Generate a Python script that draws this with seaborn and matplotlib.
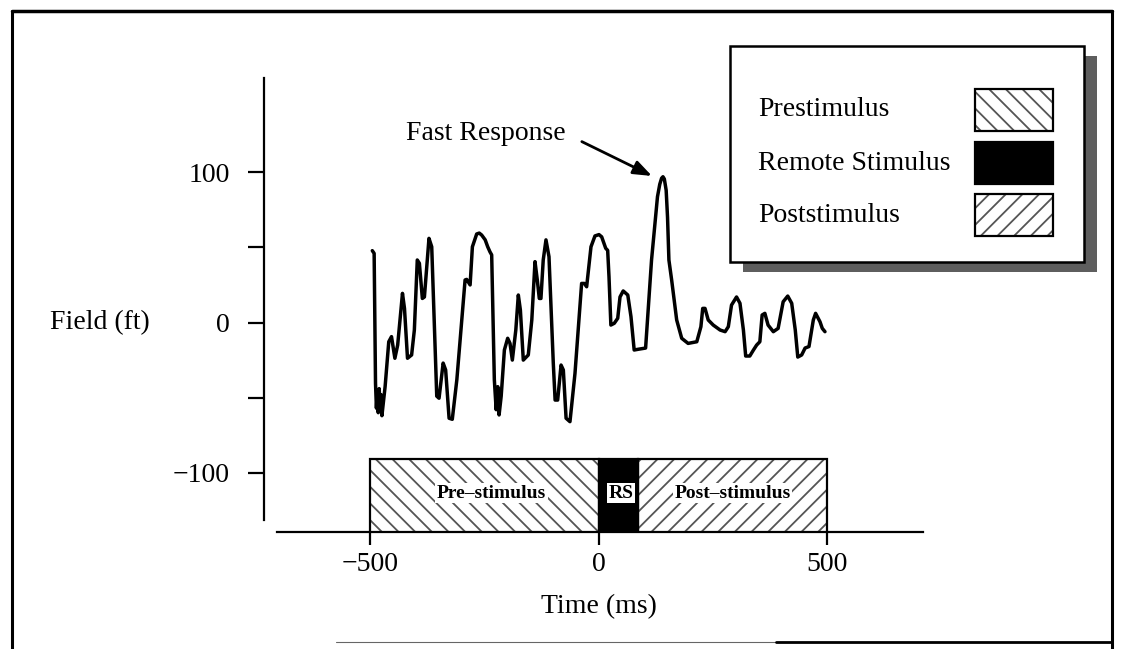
import pandas as pd
import seaborn as sns
import matplotlib.pyplot as plt
from matplotlib.patches import Rectangle
from matplotlib.lines import Line2D

# Field trace (ms, fT)
time_ms = [-496, -492, -489, -487, -485, -483, -481, -479, -477, -475, -468, -460, -454,
           -446.6, -440.5, -430, -425.6, -419, -410, -404, -397.6, -393, -386.5, -382, -372,
           -366, -355, -350, -341, -335.5, -328, -321, -311, -293, -289.5, -282, -277,
           -267.6, -262, -256.7, -249, -243.5, -238.5, -234.8, -229, -225, -221.5, -218.6, -214,
           -207, -199.8, -194.7, -189.6, -182, -176.5, -172, -165.6, -154.7, -147, -140,
           -135, -130.6, -127, -122, -116, -109.4, -100, -96, -90.4, -83, -78, -72, -63.5,
           -52.5, -38, -32, -27, -17.5, -8.8, 0, 5.9, 14.7, 19, 21.9, 26, 33.5, 41, 46, 53, 63,
           70, 77, 86, 102, 115, 128, 133, 137, 140, 143, 147, 150, 153, 159, 170, 181, 195, 214,
           223, 227, 232, 239, 250, 265, 276, 283, 290, 301, 308.5, 316, 321, 330, 338, 345, 352,
           357, 363, 370, 381.5, 392, 403, 413, 421.7, 429.5, 435, 443.5, 451, 459.5, 469,
           474, 483.6, 488.6, 494.5]
field_ft = [47.8, 46, -40.5, -57, -45, -60, -44, -56, -48, -62, -42.7, -12.8, -9.4,
            -23.8, -15, 19.4, 9.4, -23.8, -21.6, -5, 41.6, 39.4, 16, 17, 56,
            50.4, -49, -50.4, -27, -31.6, -63.7, -64.4, -38, 28.3, 28.7, 25, 50.4,
            58.9, 59.5, 58.2, 55, 50.4, 47, 45, -38, -58, -42.7, -61.5, -49,
            -18.3, -10.5, -13.9, -25, -5, 18.3, 8.3, -25, -21.6, 1.7, 40.5,
            28.3, 16, 16, 41.6, 55, 43.8, -27, -51.6, -51.6, -28.3, -31.6, -63.7, -66,
            -33.8, 26, 26, 23.8, 50.4, 57.6, 58.5, 57, 49.4, 48, 30.5, -1.7, -0.5, 2.8, 17, 21,
            18.3, 3.9, -18.3, -17.8, -17, 41.6, 83.7, 92, 96, 97, 95.5, 88, 70, 41.6, 28.3, 1.7,
            -10.5, -13.9, -12.8, -2.8, 9.4, 9.4, 1.7, -1.7, -5, -6.1, -2.8, 11.6, 17, 12.8, -5,
            -22.3, -22.3, -18.3, -15, -12.8, 5, 6.1, -1.7, -6.1, -3.9, 13.8, 17.6, 12.8, -5,
            -23, -21.6, -17, -16, 1.7, 6.1, 0.5, -3.9, -6.1]

# Stimulus periods
period_labels = ['Pre–stimulus', 'RS', 'Post–stimulus']
period_start = [-500, 0, 85]
period_end = [0, 85, 500]
legend_labels = ['Prestimulus', 'Remote Stimulus', 'Poststimulus']

x_ticks = [-500, 0, 500]
y_ticks = [-100, -50, 0, 50, 100]
y_ticklabels = ['−100', '', '0', '', '100']

df = pd.DataFrame({'Time': time_ms, 'Field': field_ft})

sns.set_theme(style='ticks', rc={'text.color': 'black', 'axes.labelcolor': 'black',
                                 'xtick.color': 'black', 'ytick.color': 'black',
                                 'axes.edgecolor': 'black', 'hatch.linewidth': 1.3})
plt.rcParams['font.family'] = ['Liberation Serif', 'DejaVu Serif']

W, H = 1123, 649


def fx(px):
    return px / W


def fy(py):
    return 1 - py / H


fig = plt.figure(figsize=(11.23, 6.49), dpi=100)
ax = fig.add_axes([fx(264), fy(531.7), fx(923) - fx(264), fy(78) - fy(531.7)])

sns.lineplot(data=df, x='Time', y='Field', ax=ax, color='black', lw=2.5,
             sort=False, estimator=None, solid_joinstyle='round')

# stimulus band along the bottom: stippled-looking hatch in grey, outline in black
band_lo, band_hi = -139.2, -91
hatches = ['\\\\', None, '//']
faces = ['white', 'black', 'white']
hatch_ink = ['#555555', 'black', '#555555']
widths = [e - s for s, e in zip(period_start, period_end)]
centre = [(band_lo + band_hi) / 2] * 3
ax.barh(centre, widths, left=period_start, height=band_hi - band_lo,
        color=faces, edgecolor=hatch_ink, hatch=hatches, linewidth=0, zorder=3)
ax.barh(centre, widths, left=period_start, height=band_hi - band_lo,
        fill=False, edgecolor='black', linewidth=1.6, zorder=3.5)
label_x = [-235, 48, 292]
for lx, lab in zip(label_x, period_labels):
    ax.text(lx, (band_lo + band_hi) / 2 + 1.5, lab, ha='center', va='center', fontsize=14,
            fontweight='bold', zorder=4,
            bbox=dict(facecolor='white', edgecolor='none', pad=1.2))

ax.annotate('Fast Response', xy=(116, 97.5), xytext=(-72, 125.5), ha='right', va='center',
            fontsize=20,
            arrowprops=dict(arrowstyle='-|>,head_length=0.8,head_width=0.3', color='black',
                            lw=2, mutation_scale=14, relpos=(1, 0.5), shrinkA=10, shrinkB=0))

ax.set_xlim(-733, 709)
ax.set_ylim(band_lo, 162.7)
ax.set_xticks(x_ticks, ['−500', '0', '500'])
ax.set_yticks(y_ticks, y_ticklabels)
ax.set_xlabel('')
ax.set_ylabel('')
ax.tick_params(axis='y', length=11.5, width=1.6, pad=13, labelsize=20)
ax.tick_params(axis='x', length=9.5, width=1.6, pad=5, labelsize=20)
sns.despine(ax=ax)
ax.spines['left'].set_bounds(-131.4, 162.7)
ax.spines['bottom'].set_bounds(-705, 709)
ax.spines['left'].set_linewidth(1.6)
ax.spines['bottom'].set_linewidth(1.6)

fig.text(fx(599), fy(607), 'Time (ms)', ha='center', va='center', fontsize=20)
fig.text(fx(50), fy(323), 'Field (ft)', ha='left', va='center', fontsize=20)

# legend box: labels left, swatches right, dropped shadow
tr = fig.transFigure
fig.add_artist(Rectangle((fx(743), fy(272)), fx(1097) - fx(743), fy(56) - fy(272),
                         transform=tr, facecolor='#5e5e5e', edgecolor='none', zorder=2))
fig.add_artist(Rectangle((fx(730), fy(262)), fx(1084) - fx(730), fy(46) - fy(262),
                         transform=tr, facecolor='white', edgecolor='black', lw=1.8,
                         zorder=3))
row_y = [110, 163, 215]
for lab, yy, face, hat, ink in zip(legend_labels, row_y, faces, hatches, hatch_ink):
    x0, y0 = fx(975), fy(yy + 21)
    w, h = fx(1053) - fx(975), fy(yy - 21) - fy(yy + 21)
    fig.text(fx(758), fy(yy), lab, ha='left', va='center', fontsize=20, zorder=5)
    fig.add_artist(Rectangle((x0, y0), w, h, transform=tr, facecolor=face, edgecolor=ink,
                             hatch=hat, lw=0, zorder=4))
    fig.add_artist(Rectangle((x0, y0), w, h, transform=tr, fill=False, edgecolor='black',
                             lw=1.6, zorder=4.5))

# outer frame
frame_kw = dict(transform=tr, color='black')
fig.add_artist(Line2D([fx(12), fx(1112)], [fy(11)] * 2, lw=2.5, **frame_kw))
fig.add_artist(Line2D([fx(12)] * 2, [0, fy(11)], lw=2.2, **frame_kw))
fig.add_artist(Line2D([fx(1112)] * 2, [0, fy(11)], lw=2.2, **frame_kw))
fig.add_artist(Line2D([fx(336), fx(776)], [fy(642)] * 2, lw=0.8, alpha=0.6, **frame_kw))
fig.add_artist(Line2D([fx(776), fx(1112)], [fy(642)] * 2, lw=2, **frame_kw))

fig.savefig('out.png', dpi=100)
